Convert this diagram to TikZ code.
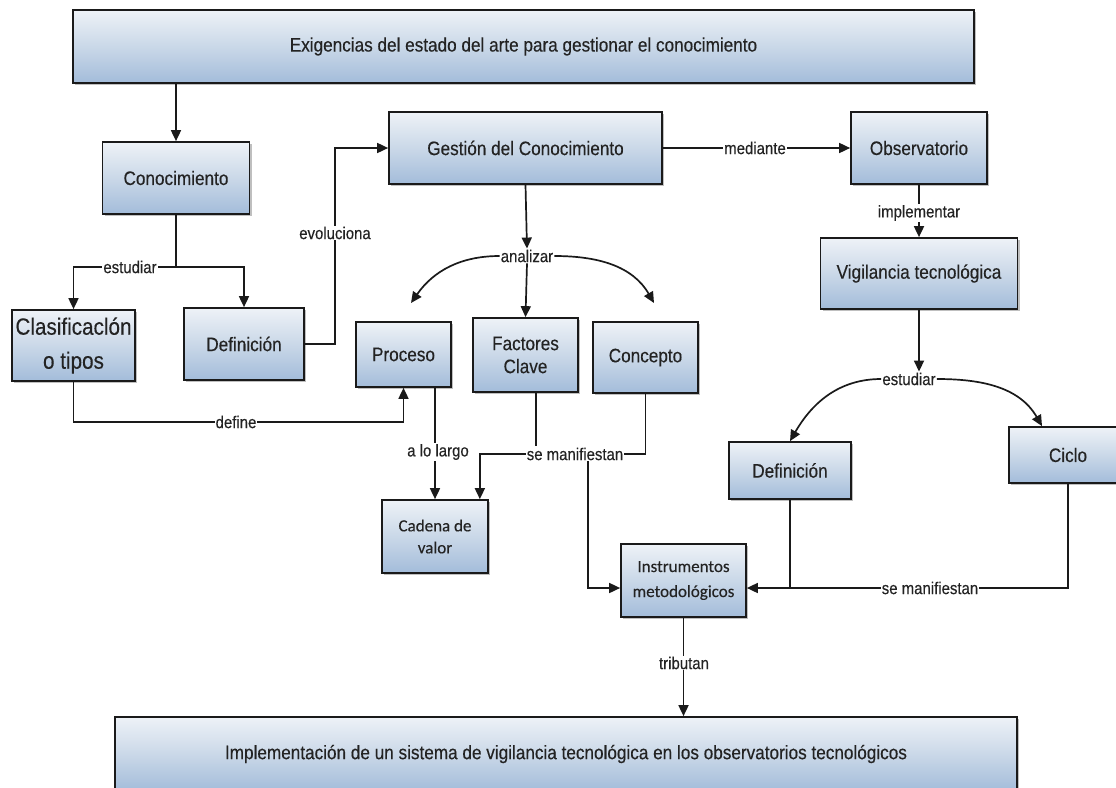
\documentclass[tikz,border=0pt]{standalone}
\usepackage{fontspec}
\setmainfont{Liberation Sans}[FakeBold=0.3, FakeStretch=0.88]
\newfontfamily\calib{Carlito}[FakeBold=0.3]
\usetikzlibrary{arrows.meta,shadows,calc}

\definecolor{boxtop}{HTML}{EEF2F7}
\definecolor{boxmid}{HTML}{CAD8E8}
\definecolor{boxbot}{HTML}{A3BCDA}
\definecolor{ink}{HTML}{1A1A1A}
\definecolor{txt}{HTML}{232323}

\tikzset{
  box/.style={rectangle, draw=ink, line width=1.7pt,
    top color=boxtop, bottom color=boxbot, middle color=boxmid,
    text=txt, align=center, inner sep=0pt,
    font=\fontsize{19.5}{23}\selectfont,
    drop shadow={shadow xshift=2pt, shadow yshift=-2pt, opacity=0.25, fill=black}},
  link/.style={draw=ink, line width=1.7pt},
  arr/.style={link, -{Triangle[length=11pt,width=10pt]}},
  lbl/.style={fill=white, inner sep=1pt, text=txt, font=\fontsize{17}{19}\selectfont},
}

\begin{document}
\begin{tikzpicture}[x=1pt,y=-1pt]
\fill[white] (0,0) rectangle (1116,787);
\clip (0,0) rectangle (1116,787);

% concept boxes
\node[box, minimum width=901pt, minimum height=73pt] (head) at (523.5,46.5)
  {Exigencias del estado del arte para gestionar el conocimiento};
\node[box, minimum width=147pt, minimum height=72pt] (conoc) at (176,178) {Conocimiento};
\node[box, minimum width=273pt, minimum height=72pt] (gest) at (525.5,148) {Gestión del Conocimiento};
\node[box, minimum width=136pt, minimum height=72pt] (obs) at (919,148) {Observatorio};
\node[box, minimum width=197pt, minimum height=71pt] (vig) at (919,273.5) {Vigilancia tecnológica};
\node[box, minimum width=123pt, minimum height=71pt, font=\fontsize{23.5}{34}\selectfont]
  (clasif) at (73.5,345.5) {Clasificaclón\\o tipos};
\node[box, minimum width=120pt, minimum height=72pt] (def1) at (244,344) {Definición};
\node[box, minimum width=95pt, minimum height=65pt] (proceso) at (403.5,354.5) {Proceso};
\node[box, minimum width=105pt, minimum height=74pt] (factores) at (525.5,355) {Factores\\Clave};
\node[box, minimum width=105pt, minimum height=71pt] (concepto) at (645.5,357.5) {Concepto};
\node[box, minimum width=106pt, minimum height=73pt, font=\calib\fontsize{17}{22}\selectfont]
  (cadena) at (435,536.5) {Cadena de\\valor};
\node[box, minimum width=125pt, minimum height=73pt, font=\calib\fontsize{17}{25}\selectfont]
  (instr) at (683.5,580.5) {Instrumentos\\metodológicos};
\node[box, minimum width=122pt, minimum height=57pt] (def2) at (790,470.5) {Definición};
\node[box, minimum width=118pt, minimum height=56pt] (ciclo) at (1068,455) {Ciclo};
\node[box, minimum width=902pt, minimum height=74pt, font=\fontsize{19.5}{23}\selectfont]
  (foot) at (566,754)
  {Implementación de un sistema de vigilancia tecnológica en los observatorios tecnológicos};

% labels that act as junctions
\node[lbl] (an) at (527,256) {analizar};
\node[lbl] (es2) at (909,379) {estudiar};
\node[lbl] (sm1) at (575,454) {se manifiestan};
\node[lbl] (sm2) at (930,588) {se manifiestan};

% helper points
\coordinate (j1) at (176,267);
\coordinate (evx) at (335,250);
\coordinate (dfc) at (403.5,422);
\coordinate (fx) at (536,446);
\coordinate (ix) at (588,600);
\coordinate (iy) at (0,588);
\coordinate (ptip) at (411,303);
\coordinate (ctip) at (654,303);

% connectors
\draw[arr] (head.south -| conoc.north) -- (conoc.north);
\draw[link] (conoc.south) -- (j1);
\draw[arr] (j1) -| (clasif.north);
\draw[arr] (j1) -| (def1.north);
\draw[arr] (def1.east) -| (evx) |- (gest.west);
\draw[arr] (gest.east) -- (obs.west);
\draw[arr] (obs.south) -- (vig.north);
\draw[arr] (gest.south) -- (an.north);
\draw[arr] (an.south) -- (factores.north);
\draw[arr] (an.west) to[out=180,in=55] (ptip);
\draw[arr] (an.east) to[out=0,in=120] (ctip);
\draw[arr] (clasif.south) |- (dfc) -- (proceso.south);
\draw[arr] (cadena.north |- proceso.south) -- (cadena.north);
\draw[link] (factores.south -| fx) -- (fx);
\draw[link] (concepto.south) |- (sm1.east);
\draw[arr] (sm1.west) -| ([xshift=-9pt]cadena.north east);
\draw[arr] (sm1.south -| ix) |- (instr.west |- iy);
\draw[arr] (vig.south) -- (vig.south |- es2.north);
\draw[arr] (es2.west) to[out=180,in=60] (def2.north);
\draw[arr] (es2.east) to[out=0,in=120] ([xshift=-26pt]ciclo.north);
\draw[link] (def2.south) -- (def2.south |- iy);
\draw[link] (ciclo.south) |- (sm2.east);
\draw[arr] (sm2.west) -- (sm2.west -| instr.east);
\draw[arr] (instr.south) -- (instr.south |- foot.north);

% labels sitting on connectors
\node[lbl] (l-est) at (130,267) {estudiar};
\node[lbl] (l-evo) at (335,233) {evoluciona};
\node[lbl] (l-med) at (755,148) {mediante};
\node[lbl] (l-imp) at (919,213) {implementar};
\node[lbl] (l-def) at (236,422) {define};
\node[lbl] (l-lar) at (438,452) {a lo largo};
\node[lbl] (l-tri) at (684,663) {tributan};
\end{tikzpicture}
\end{document}
